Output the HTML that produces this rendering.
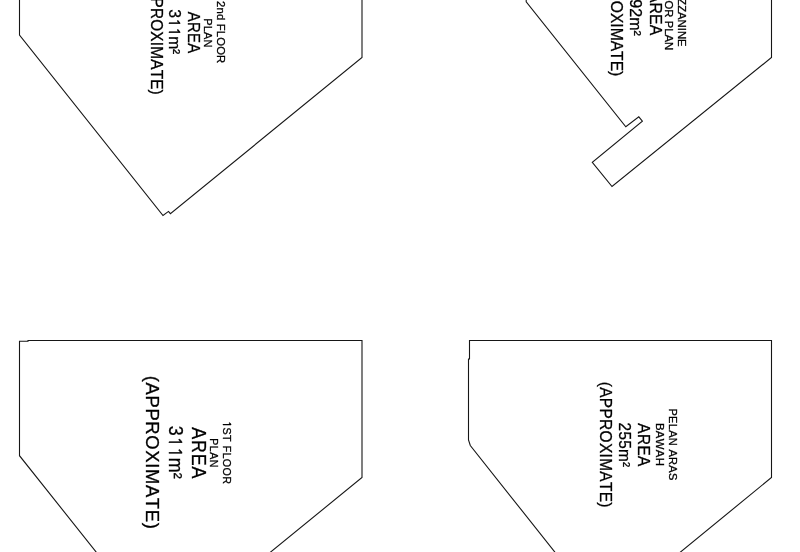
<!DOCTYPE html>
<html lang="en">
<head>
<meta charset="utf-8">
<title>Floor plans</title>
<style>
html,body{margin:0;padding:0;background:#fff;}
body{width:800px;height:552px;overflow:hidden;}
svg{display:block;will-change:transform;}
text{font-family:"Liberation Sans",Arial,Helvetica,sans-serif;fill:#000;stroke:#000;stroke-width:0.3;font-kerning:none;text-anchor:start;}
.one{font-family:"NanumGothic","Liberation Sans",sans-serif;stroke-width:0.6;}
path{fill:none;stroke:#161616;stroke-width:1.1;stroke-linejoin:miter;}
</style>
</head>
<body>
<svg width="800" height="552" viewBox="0 0 800 552">
<path d="M19.5,-2 L19.5,35 L163,215.5 L168.5,211.4 L170.4,213.7 L362,57.5 L362,-2"/>
<path d="M526.2,-2 L526.2,1.8 L625.8,126.8 L638.8,116.8 L642.4,121.2 L592.3,162.4 L612,186.5 L771.5,57.5 L771.5,-2"/>
<path d="M118.4,580 L19.5,455.7 L19.5,341.3 L28,341.3 L28,340.5 L362,340.5 L362,477.5 L240,577"/>
<path d="M577,580 L470.3,445.5 L468.5,440 L468.5,359 L469.5,359 L469.5,340.5 L771.5,340.5 L771.5,477.5 L650,577"/>
<text transform="translate(216.60,1.12) rotate(90) scale(0.9588,1)" font-size="11.8" letter-spacing="0.160">2nd FLOOR</text>
<text transform="translate(203.50,18.19) rotate(90) scale(0.9346,1)" font-size="11.8" letter-spacing="0.197">PLAN</text>
<text transform="translate(187.90,11.75) rotate(90) scale(0.9203,1)" font-size="16.2" letter-spacing="0.301">AREA</text>
<text transform="translate(169.20,9.36) rotate(90) scale(0.9685,1)" font-size="16.2" letter-spacing="0.231">3<tspan class="one" font-size="14.82" dx="0.32">1</tspan><tspan class="one" font-size="14.82" dx="-0.08">1</tspan>m<tspan dx="-0.65">²</tspan></text>
<text transform="translate(150.80,-28.60) rotate(90) scale(0.9831,1)" font-size="15.6" letter-spacing="0.207">(APPROXIMATE)</text>
<text transform="translate(678.20,-18.66) rotate(90) scale(0.9576,1)" font-size="11.8" letter-spacing="0.000">MEZZANINE</text>
<text transform="translate(664.60,-21.41) rotate(90) scale(0.9576,1)" font-size="11.8" letter-spacing="0.000">FLOOR PLAN</text>
<text transform="translate(649.60,-8.03) rotate(90) scale(0.9815,1)" font-size="16.2" letter-spacing="0.000">AREA</text>
<text transform="translate(630.00,-0.75) rotate(90) scale(0.9938,1)" font-size="16.2" letter-spacing="0.000">92m²</text>
<text transform="translate(611.20,-47.01) rotate(90) scale(0.9660,1)" font-size="16.2" letter-spacing="0.000">(APPROXIMATE)</text>
<text transform="translate(222.60,420.98) rotate(90) scale(0.9128,1)" font-size="11.8" letter-spacing="0.424"><tspan class="one" font-size="10.80" dx="0.24">1</tspan>ST FLOOR</text>
<text transform="translate(210.30,438.22) rotate(90) scale(0.9027,1)" font-size="11.8" letter-spacing="0.508">PLAN</text>
<text transform="translate(191.80,427.15) rotate(90) scale(0.8932,1)" font-size="20.0" letter-spacing="0.957">AREA</text>
<text transform="translate(168.90,425.79) rotate(90) scale(0.8962,1)" font-size="20.0" letter-spacing="0.736">3<tspan class="one" font-size="18.30" dx="0.40">1</tspan><tspan class="one" font-size="18.30" dx="-0.10">1</tspan>m<tspan dx="-0.80">²</tspan></text>
<text transform="translate(145.90,375.79) rotate(90) scale(0.9609,1)" font-size="19.2" letter-spacing="0.656">(APPROXIMATE)</text>
<text transform="translate(668.90,408.48) rotate(90) scale(0.9421,1)" font-size="11.8" letter-spacing="0.250">PELAN ARAS</text>
<text transform="translate(656.00,422.96) rotate(90) scale(0.9633,1)" font-size="11.8" letter-spacing="0.320">BAWAH</text>
<text transform="translate(637.80,423.25) rotate(90) scale(0.9482,1)" font-size="16.2" letter-spacing="0.456">AREA</text>
<text transform="translate(618.80,422.58) rotate(90) scale(0.9435,1)" font-size="16.2" letter-spacing="0.349">255m²</text>
<text transform="translate(599.50,381.72) rotate(90) scale(0.9561,1)" font-size="16.2" letter-spacing="0.325">(APPROXIMATE)</text>
</svg>
</body>
</html>
